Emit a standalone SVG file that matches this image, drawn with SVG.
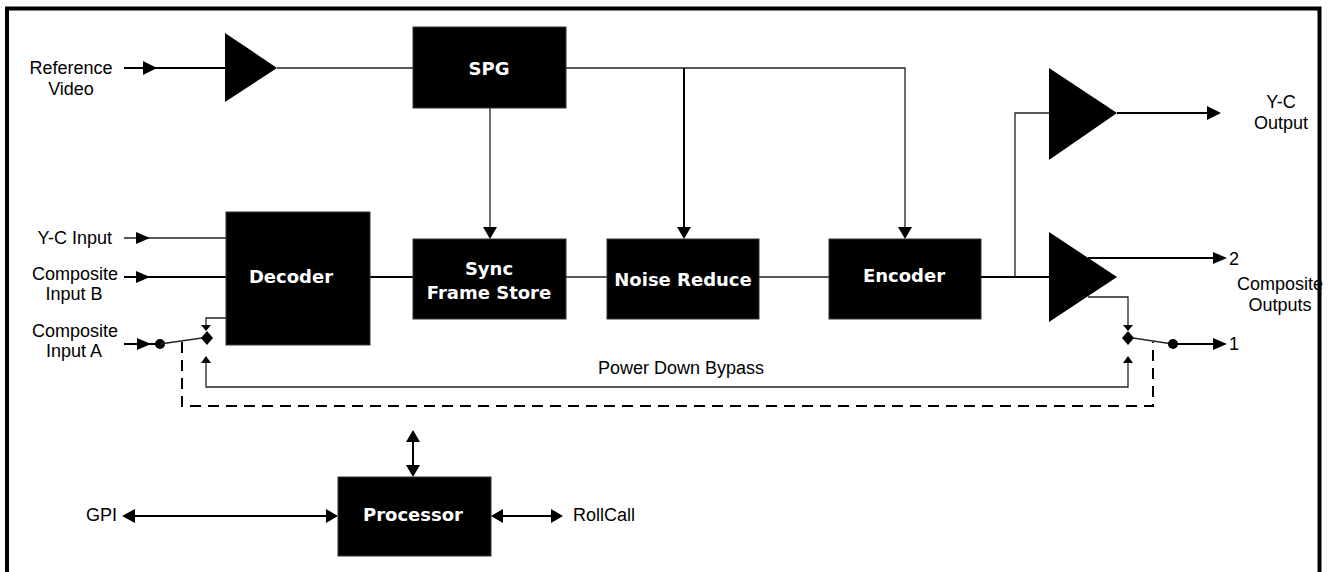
<svg xmlns="http://www.w3.org/2000/svg" width="1340" height="572" viewBox="0 0 1340 572">
<style>
.lbl{font-family:"Liberation Sans",Arial,sans-serif;font-size:18px;fill:#000}
.blk{fill:#000;stroke:#333;stroke-width:1}
.bt{font-family:"DejaVu Sans","Liberation Sans",sans-serif;font-weight:bold;font-size:18px;fill:#fff;text-anchor:middle}
.w{fill:none;stroke:#000;stroke-width:2}
.t{fill:none;stroke:#222;stroke-width:1.3}
.d{fill:none;stroke:#000;stroke-width:2;stroke-dasharray:11 7}
.ah{fill:#000}
</style>
<rect width="1340" height="572" fill="#fff"/>

<g id="labels">
<text class="lbl" x="71" y="74" text-anchor="middle">Reference</text>
<text class="lbl" x="71" y="95" text-anchor="middle">Video</text>
<text class="lbl" x="112" y="244" text-anchor="end">Y-C Input</text>
<text class="lbl" x="75" y="280" text-anchor="middle">Composite</text>
<text class="lbl" x="74" y="300" text-anchor="middle">Input B</text>
<text class="lbl" x="75" y="337" text-anchor="middle">Composite</text>
<text class="lbl" x="74" y="357" text-anchor="middle">Input A</text>
<text class="lbl" x="1281" y="108" text-anchor="middle">Y-C</text>
<text class="lbl" x="1281" y="129" text-anchor="middle">Output</text>
<text class="lbl" x="1229" y="265">2</text>
<text class="lbl" x="1280" y="290" text-anchor="middle">Composite</text>
<text class="lbl" x="1280" y="311" text-anchor="middle">Outputs</text>
<text class="lbl" x="1229" y="350">1</text>
<text class="lbl" x="681" y="374" text-anchor="middle">Power Down Bypass</text>
<text class="lbl" x="117" y="521" text-anchor="end">GPI</text>
<text class="lbl" x="573" y="521">RollCall</text>
</g>

<g id="connectors">
<!-- reference video -->
<line class="w" x1="124" y1="68" x2="226" y2="68"/>
<polygon class="ah" points="143,61 157,68 143,75"/>
<line class="t" x1="277" y1="68" x2="413" y2="68"/>
<!-- SPG outputs -->
<polyline class="t" points="566,68 905,68 905,228"/>
<polygon class="ah" points="898,227 912,227 905,239"/>
<line class="w" x1="684" y1="68" x2="684" y2="228"/>
<polygon class="ah" points="677,227 691,227 684,239"/>
<line class="t" x1="490" y1="108" x2="490" y2="228"/>
<polygon class="ah" points="483,227 497,227 490,239"/>
<!-- inputs -->
<line class="t" x1="124" y1="238" x2="226" y2="238"/>
<polygon class="ah" points="136,232 150,238 136,244"/>
<line class="w" x1="124" y1="277" x2="226" y2="277"/>
<polygon class="ah" points="136,271 150,277 136,283"/>
<line class="w" x1="124" y1="344" x2="156" y2="344"/>
<polygon class="ah" points="137,338 151,344 137,350"/>
<circle class="ah" cx="160" cy="344" r="5"/>
<line class="t" x1="160" y1="344" x2="202" y2="338"/>
<!-- main chain -->
<line class="w" x1="370" y1="277" x2="413" y2="277"/>
<line class="t" x1="566" y1="277" x2="607" y2="277"/>
<line class="t" x1="759" y1="277" x2="829" y2="277"/>
<line class="w" x1="981" y1="277" x2="1049" y2="277"/>
<polyline class="t" points="1015,277 1015,113 1049,113"/>
<!-- outputs -->
<line class="w" x1="1117" y1="113" x2="1212" y2="113"/>
<polygon class="ah" points="1207,106 1221,113 1207,120"/>
<line class="w" x1="1088" y1="258" x2="1218" y2="258"/>
<polygon class="ah" points="1213,252 1227,258 1213,264"/>
<polyline class="t" points="1088,297 1128,297 1128,326"/>
<polygon class="ah" points="1123,325 1133,325 1128,331"/>
<line class="t" x1="1133" y1="338" x2="1173" y2="344"/>
<circle class="ah" cx="1173" cy="344" r="5"/>
<line class="w" x1="1173" y1="344" x2="1218" y2="344"/>
<polygon class="ah" points="1213,338 1227,344 1213,350"/>
<!-- decoder tap to left switch -->
<polyline class="t" points="226,318 206,318 206,326"/>
<polygon class="ah" points="201,325 211,325 206,331"/>
<!-- switches -->
<polygon class="ah" points="207,331 213,338 207,345 201,338"/>
<polygon class="ah" points="1128,331 1134,338 1128,345 1122,338"/>
<!-- power down bypass -->
<polyline class="t" points="206,362 206,387 1128,387 1128,362"/>
<polygon class="ah" points="201,363 211,363 206,356"/>
<polygon class="ah" points="1123,363 1133,363 1128,356"/>
<polyline class="d" points="182,342 182,406 1153,406 1153,342"/>
<!-- processor -->
<line class="w" x1="413" y1="440" x2="413" y2="466"/>
<polygon class="ah" points="406,442 420,442 413,430"/>
<polygon class="ah" points="406,465 420,465 413,477"/>
<line class="w" x1="130" y1="516" x2="330" y2="516"/>
<polygon class="ah" points="135,509 135,523 122,516"/>
<polygon class="ah" points="326,509 326,523 338,516"/>
<line class="w" x1="500" y1="516" x2="555" y2="516"/>
<polygon class="ah" points="503,509 503,523 491,516"/>
<polygon class="ah" points="551,509 551,523 563,516"/>
</g>

<g id="amp-ref"><polygon class="ah" points="225,33 277,68 225,102"/></g>
<g id="amp-yc"><polygon class="ah" points="1049,68 1117,113 1049,160"/></g>
<g id="amp-comp"><polygon class="ah" points="1049,232 1117,277 1049,322"/></g>

<g id="spg"><rect class="blk" x="413" y="27" width="153" height="81"/><text class="bt" x="489" y="75">SPG</text></g>
<g id="decoder"><rect class="blk" x="226" y="212" width="144" height="133"/><text class="bt" x="291" y="283">Decoder</text></g>
<g id="sync"><rect class="blk" x="413" y="239" width="153" height="80"/><text class="bt" x="489" y="275">Sync</text><text class="bt" x="489" y="299">Frame Store</text></g>
<g id="noise"><rect class="blk" x="607" y="239" width="152" height="80"/><text class="bt" x="683" y="286">Noise Reduce</text></g>
<g id="encoder"><rect class="blk" x="829" y="239" width="152" height="80"/><text class="bt" x="904" y="282">Encoder</text></g>
<g id="processor"><rect class="blk" x="338" y="477" width="153" height="79"/><text class="bt" x="413" y="521">Processor</text></g>

<rect x="7" y="8.5" width="1312.5" height="600" fill="none" stroke="#000" stroke-width="4"/>
</svg>
